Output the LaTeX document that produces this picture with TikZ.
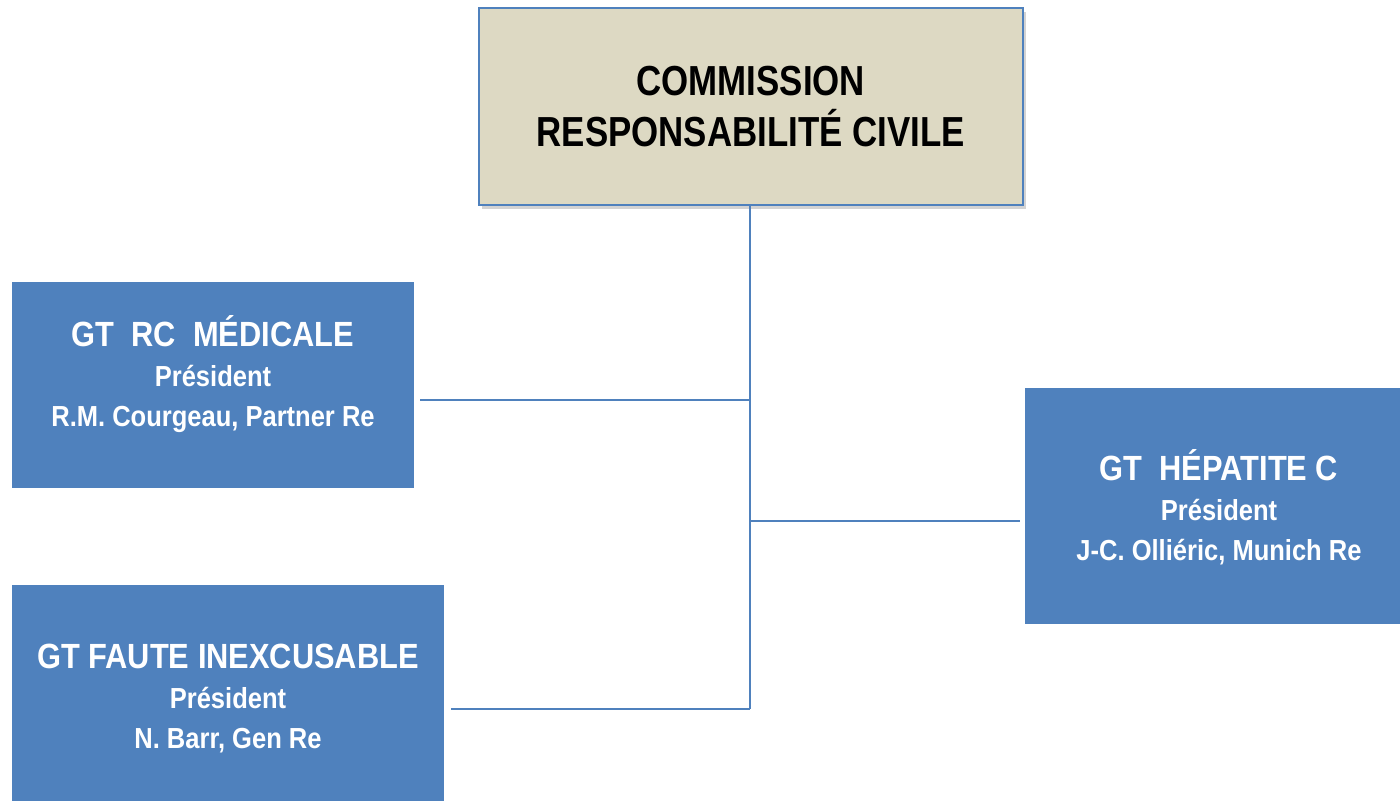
\documentclass[tikz,border=0pt]{standalone}
\usepackage{fontspec}
\setmainfont{Liberation Sans}[FakeStretch=0.83]
\newfontfamily\boxfont{Liberation Sans}[FakeStretch=0.88]
\usetikzlibrary{shadows}
\definecolor{boxblue}{RGB}{79,129,189}
\definecolor{tan}{RGB}{221,217,195}
\newcommand{\gtsub}{\fontsize{29}{40}\selectfont}
\begin{document}
\begin{tikzpicture}[x=1pt,y=-1pt,
  gtbox/.style={fill=boxblue, draw=none, anchor=north west, inner sep=0pt},
  gttext/.style={text=white, align=center, inner sep=0pt,
    font=\boxfont\bfseries\fontsize{35}{40}\selectfont},
  link/.style={draw=boxblue, line width=1.6pt}]
\useasboundingbox (0,0) rectangle (1400,801);
\node[fill=tan, draw=boxblue, line width=1.6pt, anchor=north west, minimum width=544pt, minimum height=197pt,
  drop shadow={opacity=0.35, shadow xshift=3pt, shadow yshift=-4pt},
  align=center, font=\bfseries\fontsize{42}{51}\selectfont, inner sep=0pt] (top) at (478,7)
  {COMMISSION\\RESPONSABILITÉ CIVILE};
\node[gtbox, minimum width=402pt, minimum height=206pt] (med) at (12,282) {};
\node[gttext] (medtxt) at (213,374)
  {GT\ \ RC\ \ MÉDICALE\\{\gtsub Président}\\{\gtsub R.M. Courgeau, Partner Re}};
\node[gtbox, minimum width=432pt, minimum height=216pt] (faute) at (12,585) {};
\node[gttext] (fautetxt) at (228,699)
  {GT FAUTE INEXCUSABLE\\{\gtsub Président}\\{\gtsub N. Barr, Gen Re}};
\node[gtbox, minimum width=375pt, minimum height=236pt] (hep) at (1025,388) {};
\node[gttext] (heptxt) at (1219,507)
  {GT\ \ HÉPATITE C\\{\gtsub Président}\\{\gtsub J-C. Olliéric, Munich Re}};
\coordinate (bot) at (750,709);
\coordinate (j1) at (750,400);
\coordinate (j2) at (750,521);
\draw[link] (top.south -| bot) -- (bot);
\draw[link] ([xshift=6pt]med.east |- j1) -- (j1);
\draw[link] (j2) -- ([xshift=-5pt]hep.west |- j2);
\draw[link] ([xshift=7pt]faute.east |- bot) -- (bot);
\end{tikzpicture}
\end{document}
